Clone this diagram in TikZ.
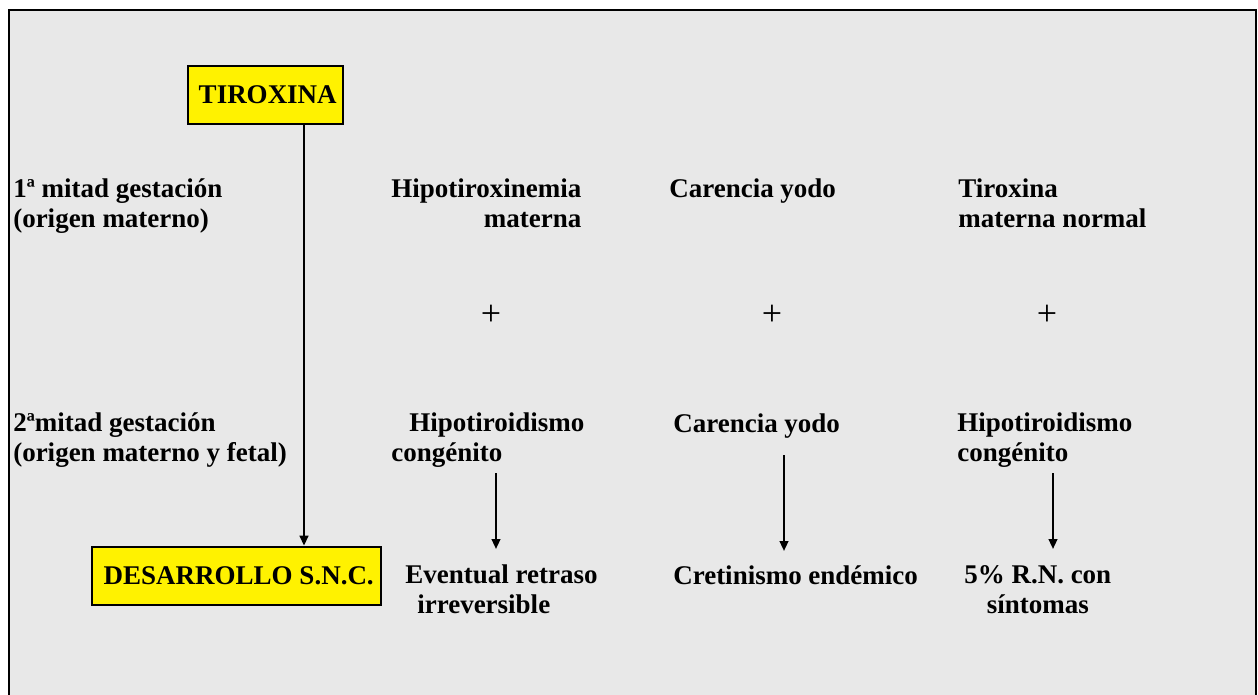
\documentclass[tikz,border=0pt]{standalone}
\usepackage{fontspec}
\setmainfont{Liberation Serif}
\usepackage{tikz}
\usetikzlibrary{positioning}
\usetikzlibrary{arrows.meta}
\definecolor{fondo}{RGB}{232,232,232}
\tikzset{
  txt/.style={anchor=base west, inner sep=0pt, align=left,
    font=\bfseries\fontsize{20.25}{22}\selectfont},
  caja/.style={draw, line width=2pt, fill=yellow, inner sep=0pt,
    font=\bfseries\fontsize{20.25}{22}\selectfont},
  flecha/.style={line width=1.6pt, -{Triangle[length=7.5pt,width=6.5pt]}}
}
\begin{document}
\begin{tikzpicture}[x=0.75pt,y=-0.75pt]
\clip (0,0) rectangle (1258,694);
\fill[white] (0,0) rectangle (1258,694);
\draw[line width=2pt, fill=fondo] (9,10) rectangle (1256,710);
% cajas
\node[caja, minimum width=116.25pt, minimum height=43.5pt] (tirox) at (265.5,95) {\,TIROXINA};
\node[caja, minimum width=216.75pt, minimum height=43.5pt] (desa) at (236.5,576) {\,DESARROLLO S.N.C.};
% etapas (base = ultima linea)
\node[txt] (mitad1) at (13,227) {1ª mitad gestación\\(origen materno)};
\node[txt] (mitad2) at (13,461) {2ªmitad gestación\\(origen materno y fetal)};
% primera fila
\node[txt, align=right] (hipox) at (391,227) {Hipotiroxinemia\\materna};
\node[txt] (yodo1) at (669,197) {Carencia yodo};
\node[txt] (tirnorm) at (958,227) {Tiroxina\\materna normal};
\foreach \x/\n in {491/mas1,772/mas2,1047/mas3}{
\node[font=\fontsize{27}{28}\selectfont, inner sep=0pt] (\n) at (\x,315) {+};
}
% segunda fila
\node[txt] (hipoc1) at (391,461) {\hspace*{13.5pt}Hipotiroidismo\\congénito};
\node[txt] (yodo2) at (673,432) {Carencia yodo};
\node[txt] (hipoc2) at (957,461) {Hipotiroidismo\\congénito};
% resultados
\node[txt] (retraso) at (405,613) {Eventual retraso\\\hspace*{9pt}irreversible};
\node[txt] (cretin) at (673,584) {Cretinismo endémico};
\node[txt, align=center] (rn) at (964,613) {5\% R.N. con\\síntomas};
% flechas
\coordinate (snc) at (304,0);
\draw[flecha] (tirox.south -| snc) -- (desa.north -| snc);
\coordinate (f1a) at (496,473);
\coordinate (f1b) at (496,549);
\coordinate (f2a) at (784,455);
\coordinate (f2b) at (784,551);
\coordinate (f3a) at (1053,473);
\coordinate (f3b) at (1053,549);
\draw[flecha] (f1a) -- (f1b);
\draw[flecha] (f2a) -- (f2b);
\draw[flecha] (f3a) -- (f3b);
\end{tikzpicture}
\end{document}
